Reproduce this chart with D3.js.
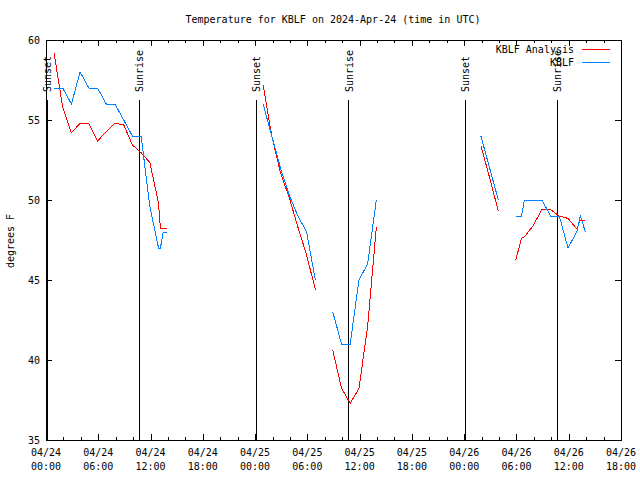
<!DOCTYPE html>
<html><head><meta charset="utf-8">
<script src="https://cdn.jsdelivr.net/npm/d3@7"></script>
<style>
html,body{margin:0;padding:0;background:#fff;}
svg{display:block;font-family:"DejaVu Sans Mono","Liberation Mono",monospace;font-size:10px;}
</style></head>
<body><svg id="c" width="640" height="480"></svg>
<script>
// ---- data ----
const title = "Temperature for KBLF on 2024-Apr-24 (time in UTC)";
const yLabel = "degrees F";
const seriesNames = ["KBLF Analysis", "KBLF"];
const seriesColors = ["#ff0000", "#0080ff"];

const times = [
  "2024-04-24 00:55","2024-04-24 01:55","2024-04-24 02:55","2024-04-24 03:55","2024-04-24 04:55",
  "2024-04-24 05:55","2024-04-24 06:55","2024-04-24 07:55","2024-04-24 08:55","2024-04-24 09:55",
  "2024-04-24 10:55","2024-04-24 11:55","2024-04-24 12:55","2024-04-24 13:08","2024-04-24 13:27",
  "2024-04-24 13:55",
  "2024-04-24 19:00",
  "2024-04-25 00:55","2024-04-25 01:55","2024-04-25 02:55","2024-04-25 03:55","2024-04-25 04:55",
  "2024-04-25 05:55","2024-04-25 06:55",
  "2024-04-25 07:55",
  "2024-04-25 08:55","2024-04-25 09:55","2024-04-25 10:55","2024-04-25 11:55","2024-04-25 12:55",
  "2024-04-25 13:55",
  "2024-04-25 19:00",
  "2024-04-26 01:55","2024-04-26 02:55","2024-04-26 03:55",
  "2024-04-26 04:55",
  "2024-04-26 05:55","2024-04-26 06:35","2024-04-26 06:55","2024-04-26 07:55","2024-04-26 08:55",
  "2024-04-26 09:55","2024-04-26 10:55","2024-04-26 11:55","2024-04-26 12:55","2024-04-26 13:20",
  "2024-04-26 13:55"
];
const analysisTemps = [
  59.2, 55.8, 54.2, 54.8, 54.75,
  53.7, 54.25, 54.8, 54.7, 53.45,
  52.95, 52.35, 49.8, 48.2, 48.2,
  48.2,
  null,
  57.2, 54.0, 51.7, 50.15, 48.3,
  46.55, 44.4,
  null,
  40.6, 38.25, 37.3, 38.2, 42.1,
  48.3,
  null,
  53.4, 51.4, 49.3,
  null,
  46.25, 47.6, 47.7, 48.4, 49.4,
  49.4, 49.0, 48.85, 48.2, 48.75,
  48.75
];
const obsTemps = [
  57, 57, 56, 58, 57,
  57, 56, 56, 55, 54,
  54, 49.6, 47, 47, 48,
  48,
  null,
  56, 54, 52, 50.3, 49,
  48, 45,
  null,
  43, 41, 41, 45, 46,
  50,
  null,
  54, 52, 50,
  null,
  49, 49, 50, 50, 50,
  49, 49, 47, 48, 49,
  48
];
const sunLabels = ["Sunset","Sunrise","Sunset","Sunrise","Sunset","Sunrise"];
const sunTimes = ["2024-04-24 00:05","2024-04-24 10:40","2024-04-25 00:06","2024-04-25 10:40","2024-04-26 00:05","2024-04-26 10:39"];
const xDomain = ["2024-04-24 00:00","2024-04-26 18:00"];
const yDomain = [35, 60];
const yTicks = [35, 40, 45, 50, 55, 60];

// ---- drawing ----
const parse = d3.utcParse("%Y-%m-%d %H:%M");
const L = 46, R = 621, T = 40, B = 440;
const x = d3.scaleUtc().domain(xDomain.map(parse)).range([L, R]);
const y = d3.scaleLinear().domain(yDomain).range([B, T]);
const svg = d3.select("#c");

const crisp = v => Math.round(v) + 0.5;

// border
svg.append("rect").attr("x", L + 0.5).attr("y", T + 0.5).attr("width", R - L).attr("height", B - T)
  .attr("fill", "none").attr("stroke", "#000").attr("shape-rendering", "crispEdges");

// x ticks
const majorX = x.ticks(d3.utcHour.every(6));
const minorX = x.ticks(d3.utcHour.every(2));
const tg = svg.append("g").attr("stroke", "#000").attr("shape-rendering", "crispEdges");
minorX.forEach(t => {
  const isMajor = t.getUTCHours() % 6 === 0;
  const len = isMajor ? 6 : 3;
  const xx = crisp(x(t));
  tg.append("line").attr("x1", xx).attr("x2", xx).attr("y1", B).attr("y2", B - len);
  tg.append("line").attr("x1", xx).attr("x2", xx).attr("y1", T).attr("y2", T + len);
});
const fDate = d3.utcFormat("%m/%d"), fTime = d3.utcFormat("%H:%M");
majorX.forEach(t => {
  const tx = svg.append("text").attr("text-anchor", "middle").attr("fill", "#000");
  tx.append("tspan").attr("x", x(t)).attr("y", 456).text(fDate(t));
  tx.append("tspan").attr("x", x(t)).attr("y", 470).text(fTime(t));
});

// y ticks
yTicks.forEach(v => {
  const yy = crisp(y(v));
  tg.append("line").attr("x1", L).attr("x2", L + 6).attr("y1", yy).attr("y2", yy);
  tg.append("line").attr("x1", R).attr("x2", R - 6).attr("y1", yy).attr("y2", yy);
  svg.append("text").attr("x", 40).attr("y", y(v) + 3.5).attr("text-anchor", "end").text(v);
});

// sunrise / sunset markers
sunTimes.forEach((s, i) => {
  const t = parse(s);
  const xx = crisp(x(t));
  svg.append("line").attr("x1", xx).attr("x2", xx).attr("y1", B).attr("y2", B - 0.85 * (B - T))
    .attr("stroke", "#000").attr("shape-rendering", "crispEdges");
  svg.append("text").attr("transform", `translate(${x(t) + 4.5},${B - 0.87 * (B - T)}) rotate(-90)`)
    .attr("text-anchor", "start").text(sunLabels[i]);
});

// series
const rows = times.map((s, i) => ({t: parse(s), a: analysisTemps[i], o: obsTemps[i]}));
const mk = key => d3.line().defined(d => d[key] != null).x(d => x(d.t)).y(d => y(d[key]));
svg.append("path").datum(rows).attr("d", mk("a")).attr("fill", "none")
  .attr("stroke", seriesColors[0]).attr("stroke-width", 1).attr("shape-rendering", "crispEdges");
svg.append("path").datum(rows).attr("d", mk("o")).attr("fill", "none")
  .attr("stroke", seriesColors[1]).attr("stroke-width", 1).attr("shape-rendering", "crispEdges");

// legend
seriesNames.forEach((n, i) => {
  const ly = 49.5 + i * 13;
  svg.append("text").attr("x", 574).attr("y", ly + 3.5).attr("text-anchor", "end").text(n);
  svg.append("line").attr("x1", 582).attr("x2", 610).attr("y1", ly).attr("y2", ly)
    .attr("stroke", seriesColors[i]).attr("shape-rendering", "crispEdges");
});

// title and y label
svg.append("text").attr("x", 333).attr("y", 23).attr("text-anchor", "middle").text(title);
svg.append("text").attr("transform", "translate(14,241) rotate(-90)").attr("text-anchor", "middle").text(yLabel);
</script></body></html>
